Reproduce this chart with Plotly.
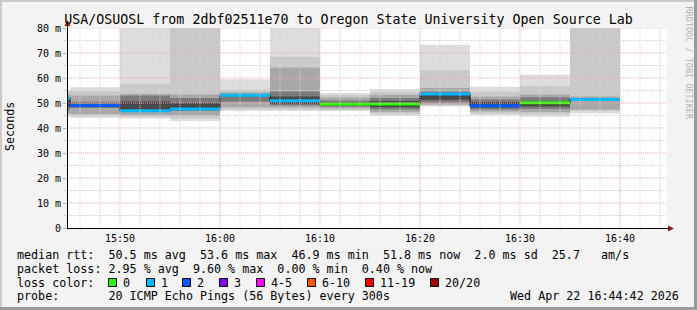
import plotly.graph_objects as go
import pandas as pd

# ---------------- data ----------------
DAY = "2026-04-22"
RANGE_START = "15:44:42"
RANGE_END = "16:44:42"
step_end = ["15:45", "15:50", "15:55", "16:00", "16:05", "16:10",
            "16:15", "16:20", "16:25", "16:30", "16:35", "16:40"]
median_ms = [51.9, 49.0, 46.9, 47.6, 53.1, 50.9, 49.6, 49.6, 53.6, 48.9, 50.1, 51.4]
loss_pings = [1, 2, 1, 1, 1, 1, 0, 0, 1, 2, 0, 1]

# smoke bands (outer -> inner), ms
smoke1_lo = [44.5, 44.0, 43.8, 42.8, 46.8, 46.8, 46.8, 44.9, 48.6, 45.2, 44.5, 45.8]
smoke1_hi = [55.2, 56.3, 85.0, 85.0, 59.5, 85.0, 54.0, 55.6, 73.3, 56.5, 61.3, 85.0]
smoke2_lo = [45.2, 44.8, 44.4, 43.8, 47.4, 47.4, 47.2, 45.6, 49.0, 45.8, 45.4, 46.8]
smoke2_hi = [54.5, 54.6, 57.7, 85.0, 55.3, 68.5, 53.2, 54.5, 63.2, 54.5, 56.8, 85.0]
smoke3_lo = [46.0, 45.6, 45.2, 45.0, 48.3, 48.2, 47.8, 46.4, 49.4, 46.6, 46.4, 47.3]
smoke3_hi = [53.2, 53.0, 53.6, 53.4, 54.3, 64.1, 52.2, 53.3, 56.0, 52.6, 53.4, 52.6]
smoke4_lo = [47.5, 48.0, 46.6, 46.8, 50.5, 49.0, 48.5, 47.4, 50.2, 47.4, 47.6, 50.8]
smoke4_hi = [51.5, 50.5, 53.0, 52.0, 53.5, 54.6, 51.0, 52.0, 54.6, 51.4, 52.3, 51.6]
smoke5_lo = [48.6, 48.8, 47.2, 47.4, 52.9, 49.6, 49.0, 48.3, 51.3, 48.2, 48.6, 51.0]
smoke5_hi = [50.8, 49.6, 50.6, 50.0, 53.1, 52.6, 50.3, 50.8, 53.6, 50.4, 50.8, 51.2]

loss_labels = ["0", "1", "2", "3", "4-5", "6-10", "11-19", "20/20"]
loss_colors = ["#26ff00", "#00b8ff", "#0059ff", "#7e00ff", "#ff00ff", "#ff5500", "#ff0000", "#a10000"]
loss_upper = [0, 1, 2, 3, 5, 10, 19, 20]

y_tick_vals = [0, 10, 20, 30, 40, 50, 60, 70, 80]
y_tick_text = ["0", "10 m", "20 m", "30 m", "40 m", "50 m", "60 m", "70 m", "80 m"]

title_text = "USA/OSUOSL from 2dbf02511e70 to Oregon State University Open Source Lab"
stats_rtt = "median rtt:  50.5 ms avg  53.6 ms max  46.9 ms min  51.8 ms now  2.0 ms sd  25.7   am/s"
stats_loss = "packet loss: 2.95 % avg  9.60 % max  0.00 % min  0.40 % now"
probe_text = "probe:       20 ICMP Echo Pings (56 Bytes) every 300s"
stamp_text = "Wed Apr 22 16:44:42 2026"

# ---------------- helpers ----------------
W, H = 697, 310
L, R, T, B = 67, 30, 28, 82
PW, PH = W - L - R, H - T - B
FONT = "DejaVu Sans Mono"


def px(x):
    return (x - L) / PW


def py(y):
    return (T + PH - y) / PH


def nb(s):
    return s.replace(" ", "\u00a0")


ends = pd.to_datetime([f"{DAY} {t}" for t in step_end])
starts = ends - pd.Timedelta(minutes=5)
bounds = list(starts) + [ends[-1]]

fig = go.Figure()

smoke = [(smoke1_lo, smoke1_hi, "#dddddd"),
         (smoke2_lo, smoke2_hi, "#c9c9c9"),
         (smoke3_lo, smoke3_hi, "#a8a8a8"),
         (smoke4_lo, smoke4_hi, "#7a7a7a"),
         (smoke5_lo, smoke5_hi, "#474747")]
for lo, hi, col in smoke:
    fig.add_trace(go.Scatter(x=bounds, y=lo + [lo[-1]], mode="lines", line=dict(width=0, shape="hv"),
                             hoverinfo="skip", showlegend=False))
    fig.add_trace(go.Scatter(x=bounds, y=hi + [hi[-1]], mode="lines", line=dict(width=0, shape="hv"),
                             fill="tonexty", fillcolor=col, hoverinfo="skip", showlegend=False))

# median black step
fig.add_trace(go.Scatter(x=bounds, y=median_ms + [median_ms[-1]], mode="lines",
                         line=dict(color="#202020", width=1.2, shape="hv"),
                         hoverinfo="skip", showlegend=False))


def bucket(n):
    for i, u in enumerate(loss_upper):
        if n <= u:
            return i
    return len(loss_upper) - 1


for b in range(len(loss_colors)):
    xs, ys = [], []
    for i in range(len(median_ms)):
        if bucket(loss_pings[i]) == b:
            xs += [starts[i], ends[i], None]
            ys += [median_ms[i], median_ms[i], None]
    if xs:
        fig.add_trace(go.Scatter(x=xs, y=ys, mode="lines",
                                 line=dict(color=loss_colors[b], width=3),
                                 hoverinfo="skip", showlegend=False))

x0 = pd.Timestamp(f"{DAY} {RANGE_START}")
x1 = pd.Timestamp(f"{DAY} {RANGE_END}")

shapes = []
# grid (above traces, like rrdtool)
for v in range(5, 81, 5):
    major = v % 10 == 0
    shapes.append(dict(type="line", xref="paper", yref="y", x0=0, x1=1, y0=v, y1=v, layer="above",
                       line=dict(color="#e9a9a9" if major else "#d2d2d2", width=1, dash="1px,1px")))
t = pd.Timestamp(f"{DAY} 15:46")
while t < x1:
    major = t.minute % 10 == 0
    shapes.append(dict(type="line", xref="x", yref="paper", x0=t, x1=t, y0=0, y1=1, layer="above",
                       line=dict(color="#e9a9a9" if major else "#d2d2d2", width=1, dash="1px,1px")))
    t += pd.Timedelta(minutes=2)

# axis extensions and arrows
shapes.append(dict(type="line", xref="paper", yref="paper", x0=px(67.5), x1=px(67.5), y0=py(228), y1=py(22),
                   line=dict(color="#000000", width=1), layer="above"))
shapes.append(dict(type="line", xref="paper", yref="paper", x0=px(67), x1=px(670), y0=py(228.5), y1=py(228.5),
                   line=dict(color="#000000", width=1), layer="above"))
shapes.append(dict(type="path", xref="paper", yref="paper", layer="above",
                   path=f"M {px(64.5)} {py(26)} L {px(70.5)} {py(26)} L {px(67.5)} {py(20)} Z",
                   fillcolor="#8b1a1a", line=dict(width=0)))
shapes.append(dict(type="path", xref="paper", yref="paper", layer="above",
                   path=f"M {px(668)} {py(225.5)} L {px(668)} {py(231.5)} L {px(674)} {py(228.5)} Z",
                   fillcolor="#8b1a1a", line=dict(width=0)))

# frame
for (a, b_, c, d, col) in [(0, 0, W, 2, "#cbcbcb"), (0, 0, 2, H, "#cbcbcb"),
                           (0, H - 3, W, H, "#9a9a9a"), (W - 3, 0, W, H, "#9a9a9a")]:
    shapes.append(dict(type="rect", xref="paper", yref="paper", x0=px(a), x1=px(c), y0=py(b_), y1=py(d),
                       fillcolor=col, line=dict(width=0), layer="above"))

# loss legend squares
sq_x = [108, 146, 182, 219, 256, 307, 365, 430]
annotations = []
for i, (lab, col) in enumerate(zip(loss_labels, loss_colors)):
    sx = sq_x[i]
    shapes.append(dict(type="rect", xref="paper", yref="paper", x0=px(sx + 0.5), x1=px(sx + 8.5),
                       y0=py(278.5), y1=py(286.5), fillcolor=col, line=dict(color="#000000", width=1),
                       layer="above"))
    annotations.append(dict(text=nb(lab), xref="paper", yref="paper", x=px(sx + 13), y=py(282.5),
                            xanchor="left", yanchor="middle", showarrow=False,
                            font=dict(family=FONT, size=11.7, color="#000000")))

LEG = dict(family=FONT, size=11.7, color="#000000")
for txt, yy in [(stats_rtt, 254.5), (stats_loss, 268.5), ("loss color:", 282.5), (probe_text, 296)]:
    annotations.append(dict(text=nb(txt), xref="paper", yref="paper", x=px(15), y=py(yy),
                            xanchor="left", yanchor="middle", showarrow=False, font=LEG))
annotations.append(dict(text=nb(stamp_text), xref="paper", yref="paper", x=px(681), y=py(296),
                        xanchor="right", yanchor="middle", showarrow=False, font=LEG))
annotations.append(dict(text="Seconds", xref="paper", yref="paper", x=px(10), y=py(127),
                        xanchor="center", yanchor="middle", textangle=-90, showarrow=False, font=LEG))
annotations.append(dict(text=nb("RRDTOOL / TOBI OETIKER"), xref="paper", yref="paper", x=px(688), y=py(4),
                        xanchor="center", yanchor="top", textangle=90, showarrow=False,
                        font=dict(family=FONT, size=8.5, color="#b4b4b4")))

fig.update_layout(
    width=W, height=H,
    margin=dict(l=L, r=R, t=T, b=B, pad=0),
    paper_bgcolor="#f3f3f3", plot_bgcolor="#ffffff",
    title=dict(text=nb(title_text), x=0.5, xref="container", xanchor="center",
               y=1 - 19 / H, yref="container", yanchor="middle",
               font=dict(family=FONT, size=13.3, color="#000000")),
    xaxis=dict(type="date", range=[x0, x1], showgrid=False, zeroline=False, showline=False,
               tickformat="%H:%M", dtick=600000, tick0=f"{DAY} 15:50",
               ticks="outside", ticklen=1, tickcolor="rgba(0,0,0,0)",
               tickfont=dict(family=FONT, size=10, color="#000000")),
    yaxis=dict(range=[0, 80], showgrid=False, zeroline=False, showline=False,
               tickmode="array", tickvals=y_tick_vals, ticktext=[nb(s) for s in y_tick_text],
               ticks="outside", ticklen=3, tickcolor="#b0b0b0",
               minor=dict(dtick=5, ticks="outside", ticklen=2, tickcolor="#c8c8c8"),
               tickfont=dict(family=FONT, size=10, color="#000000")),
    shapes=shapes, annotations=annotations,
    showlegend=False,
)

fig.write_html("out.html")
